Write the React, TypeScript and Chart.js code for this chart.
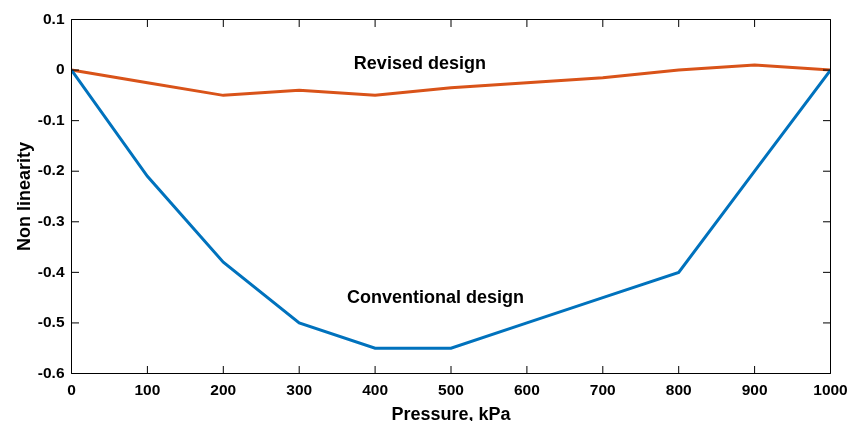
import { useEffect, useRef } from "react";
import { Chart, registerables } from "chart.js";

Chart.register(...registerables);

const pressures = [0, 100, 200, 300, 400, 500, 600, 700, 800, 900, 1000];
const conventional = [0, -0.21, -0.38, -0.5, -0.55, -0.55, -0.5, -0.45, -0.4, -0.2, 0];
const revised = [0, -0.025, -0.05, -0.04, -0.05, -0.035, -0.025, -0.015, 0, 0.01, 0];
const xTicks = [0, 100, 200, 300, 400, 500, 600, 700, 800, 900, 1000];
const yTicks = [0.1, 0, -0.1, -0.2, -0.3, -0.4, -0.5, -0.6];
const annotationTexts = ["Revised design", "Conventional design"];
const annotationX = [459, 479.6];
const annotationY = [0.011, -0.4517];

const FONT = '"Liberation Sans", Arial, Helvetica, sans-serif';

const framePlugin = {
  id: "matlabFrame",
  afterDatasetsDraw(chart: any) {
    const { ctx, chartArea, scales } = chart;
    const { left, right, top, bottom } = chartArea;
    const tl = 7.5;
    ctx.save();
    ctx.strokeStyle = "#000";
    ctx.lineWidth = 1;
    ctx.beginPath();
    ctx.rect(left, top, right - left, bottom - top);
    xTicks.forEach((v) => {
      const px = scales.x.getPixelForValue(v);
      ctx.moveTo(px, bottom);
      ctx.lineTo(px, bottom - tl);
      ctx.moveTo(px, top);
      ctx.lineTo(px, top + tl);
    });
    yTicks.forEach((v) => {
      const py = scales.y.getPixelForValue(v);
      ctx.moveTo(left, py);
      ctx.lineTo(left + tl, py);
      ctx.moveTo(right, py);
      ctx.lineTo(right - tl, py);
    });
    ctx.stroke();

    ctx.fillStyle = "#000";
    ctx.font = `bold 18px ${FONT}`;
    ctx.textAlign = "center";
    ctx.textBaseline = "middle";
    annotationTexts.forEach((t, i) => {
      ctx.fillText(t, scales.x.getPixelForValue(annotationX[i]), scales.y.getPixelForValue(annotationY[i]));
    });

    ctx.textBaseline = "alphabetic";
    ctx.fillText("Pressure, kPa", (left + right) / 2, bottom + 46.5);
    ctx.translate(left - 41.5, (top + bottom) / 2);
    ctx.rotate(-Math.PI / 2);
    ctx.fillText("Non linearity", 0, 0);
    ctx.restore();
  },
};

export default function App() {
  const ref = useRef<HTMLCanvasElement>(null);
  useEffect(() => {
    if (!ref.current) return;
    const chart = new Chart(ref.current, {
      type: "line",
      data: {
        datasets: [
          {
            label: "Conventional design",
            data: pressures.map((p, i) => ({ x: p, y: conventional[i] })),
            borderColor: "#0072BD",
            borderWidth: 3,
            pointRadius: 0,
            tension: 0,
            fill: false,
          },
          {
            label: "Revised design",
            data: pressures.map((p, i) => ({ x: p, y: revised[i] })),
            borderColor: "#D95319",
            borderWidth: 3,
            pointRadius: 0,
            tension: 0,
            fill: false,
          },
        ],
      },
      options: {
        animation: false,
        responsive: false,
        layout: { padding: { top: 19.5, right: 29.5, left: 0, bottom: 0 } },
        plugins: { legend: { display: false }, tooltip: { enabled: false } },
        scales: {
          x: {
            type: "linear",
            min: 0,
            max: 1000,
            grid: { display: false, drawTicks: false },
            border: { display: false },
            afterBuildTicks: (s: any) => {
              s.ticks = xTicks.map((v) => ({ value: v }));
            },
            afterFit: (s: any) => {
              s.height = 47.5;
            },
            ticks: {
              padding: 8,
              color: "#000",
              font: { family: FONT, size: 15.5, weight: "bold" },
              callback: (v: any) => String(v),
            },
          },
          y: {
            type: "linear",
            min: -0.6,
            max: 0.1,
            grid: { display: false, drawTicks: false },
            border: { display: false },
            afterBuildTicks: (s: any) => {
              s.ticks = yTicks.map((v) => ({ value: v }));
            },
            afterFit: (s: any) => {
              s.width = 71.5;
            },
            ticks: {
              padding: 7,
              color: "#000",
              font: { family: FONT, size: 15.5, weight: "bold" },
              callback: (v: any) => {
                const r = Math.round(Number(v) * 10) / 10;
                return r === 0 ? "0" : String(r);
              },
            },
          },
        },
      },
      plugins: [framePlugin],
    });
    return () => chart.destroy();
  }, []);
  return (
    <div style={{ position: "absolute", left: 0, top: 0, width: 860, height: 421, background: "#fff" }}>
      <canvas ref={ref} width={860} height={421} style={{ display: "block" }} />
    </div>
  );
}
